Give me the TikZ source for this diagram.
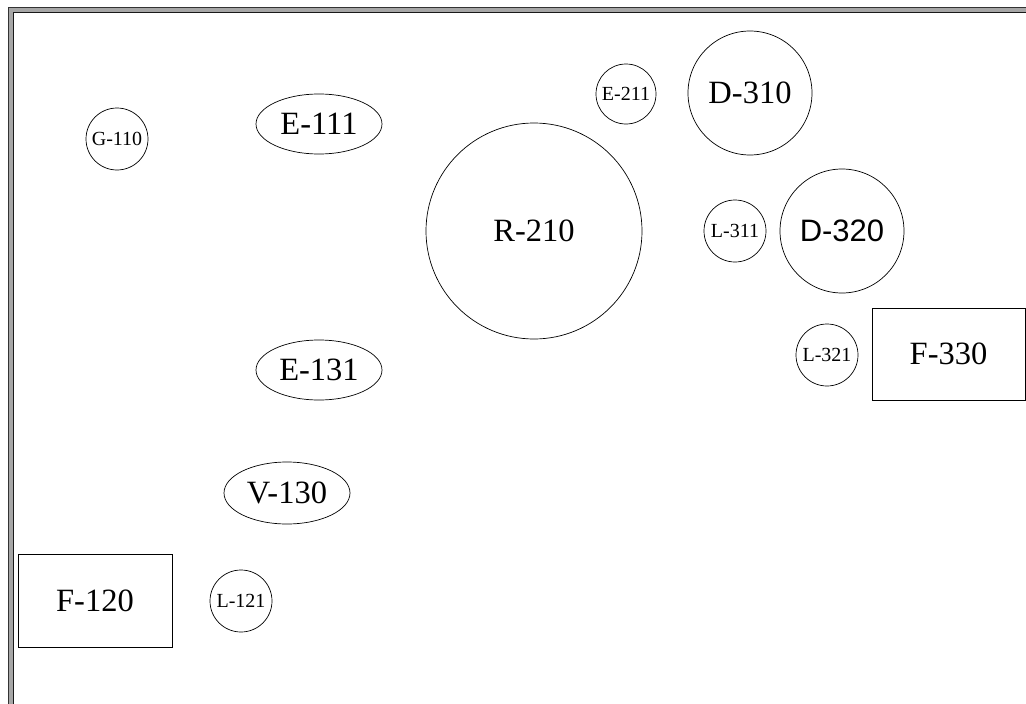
\documentclass[tikz,border=0pt]{standalone}
\usepackage{fontspec}
\setmainfont{Liberation Serif}
\newfontfamily\sansf{Liberation Sans}
\usetikzlibrary{shapes.geometric}
\begin{document}
\begin{tikzpicture}[x=1pt,y=-1pt,
  circ/.style={draw, circle, line width=0.7pt, inner sep=0pt},
  ell/.style={draw, ellipse, line width=0.7pt, inner sep=0pt},
  boxn/.style={draw, rectangle, line width=0.7pt, inner sep=0pt},
  big/.style={font=\fontsize{32.5}{34}\selectfont},
  small/.style={font=\fontsize{20}{22}\selectfont}]
\useasboundingbox (0,0) rectangle (1026,704);
% frame
\fill[gray!70] (8,7) rectangle (1030,710);
\fill[white] (13,12) rectangle (1030,710);
\draw[line width=1pt, black!80] (8,7) -- (1030,7);
\draw[line width=1pt, black!80] (8,7) -- (8,710);
\draw[line width=0.8pt, black!90] (13,12) -- (1030,12);
\draw[line width=0.8pt, black!90] (13,12) -- (13,710);
% nodes
\node[circ, minimum size=62pt, small] (g110) at (117,139) {G-110};
\node[ell, minimum width=126pt, minimum height=60pt, big] (e111) at (319,124) {E-111};
\node[circ, minimum size=60pt, small] (e211) at (626,94) {E-211};
\node[circ, minimum size=124pt, big] (d310) at (750,93) {D-310};
\node[circ, minimum size=216pt, big] (r210) at (534,231) {R-210};
\node[circ, minimum size=62pt, small] (l311) at (735,231) {L-311};
\node[circ, minimum size=124pt, font=\sansf\fontsize{31}{33}\selectfont] (d320) at (842,231) {D-320};
\node[circ, minimum size=62pt, small] (l321) at (827,355) {L-321};
\node[boxn, minimum width=153pt, minimum height=92pt, big] (f330) at (948.5,354) {F-330};
\node[ell, minimum width=126pt, minimum height=60pt, big] (e131) at (319,370) {E-131};
\node[ell, minimum width=126pt, minimum height=62pt, big] (v130) at (287,493) {V-130};
\node[boxn, minimum width=154pt, minimum height=93pt, big] (f120) at (95,600.5) {F-120};
\node[circ, minimum size=62pt, small] (l121) at (241,601) {L-121};
\end{tikzpicture}
\end{document}
